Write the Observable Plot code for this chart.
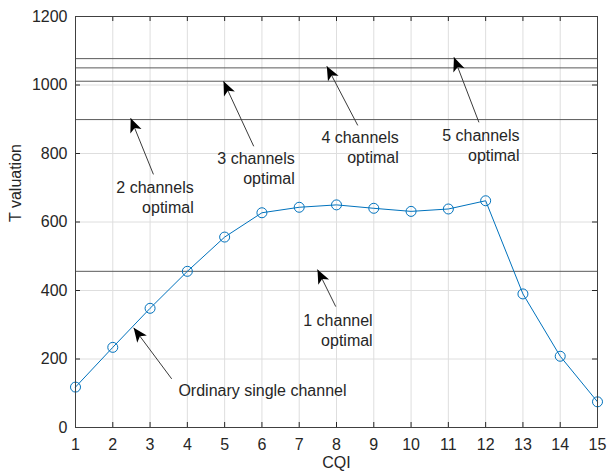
<!DOCTYPE html>
<html>
<head>
<meta charset="utf-8">
<script src="https://cdn.jsdelivr.net/npm/d3@7"></script>
<script src="https://cdn.jsdelivr.net/npm/@observablehq/plot@0.6"></script>
<style>
  html, body { margin: 0; padding: 0; background: #fff; }
  #chart { width: 607px; height: 473px; overflow: hidden; }
</style>
</head>
<body>
<div id="chart"></div>
<script>
// ---- data ----
const cqi = [1, 2, 3, 4, 5, 6, 7, 8, 9, 10, 11, 12, 13, 14, 15];
const tValuation = [118, 234, 348, 456, 556, 627, 643, 650, 640, 631, 638, 662, 390, 208, 75];
const optimalLevels = [456, 899, 1011, 1050, 1077];
const xTicks = [1, 2, 3, 4, 5, 6, 7, 8, 9, 10, 11, 12, 13, 14, 15];
const yTicks = [0, 200, 400, 600, 800, 1000, 1200];

// annotations (text arrows), in data units
const annotLabels = ["2 channels\noptimal", "3 channels\noptimal", "4 channels\noptimal", "5 channels\noptimal", "1 channel\noptimal", "Ordinary single channel"];
const annotTailX = [3.09, 5.78, 8.57, 11.82, 7.98, 3.58];
const annotTailY = [739, 821, 882, 891, 353, 142];
const annotHeadX = [2.48, 4.97, 7.74, 11.15, 7.49, 2.56];
const annotHeadY = [903, 1011, 1055, 1081, 461, 291];
const annotTextX = [4.17, 6.88, 9.67, 12.91, 8.97, 3.76];
const annotTextY = [675, 758, 820, 827, 287, 107];
const annotAlign = ["end", "end", "end", "end", "end", "start"];

const annots = annotLabels.map((label, i) => ({
  label, tx: annotTailX[i], ty: annotTailY[i], hx: annotHeadX[i], hy: annotHeadY[i],
  lx: annotTextX[i], ly: annotTextY[i], align: annotAlign[i]
}));
const series = cqi.map((x, i) => ({x, y: tValuation[i]}));

const W = 607, H = 473;
const mTop = 16, mBottom = 46, mLeft = 75, mRight = 10;
const innerH = H - mTop - mBottom;
const innerW = W - mLeft - mRight;
const tickLen = 5;
const axisColor = "#262626";
const fs = 16;

function headMarker(color, context) {
  const ns = "http://www.w3.org/2000/svg";
  const m = context.document.createElementNS(ns, "marker");
  m.setAttribute("viewBox", "-16 -8 17 16");
  m.setAttribute("markerWidth", 17);
  m.setAttribute("markerHeight", 16);
  m.setAttribute("markerUnits", "userSpaceOnUse");
  m.setAttribute("orient", "auto");
  m.setAttribute("refX", 0);
  m.setAttribute("refY", 0);
  const p = context.document.createElementNS(ns, "path");
  p.setAttribute("d", "M0,0L-14,-6L-10.5,0L-14,6Z");
  p.setAttribute("fill", "#000");
  p.setAttribute("stroke", "none");
  m.appendChild(p);
  return m;
}

const chart = Plot.plot({
  width: W,
  height: H,
  marginTop: mTop,
  marginBottom: mBottom,
  marginLeft: mLeft,
  marginRight: mRight,
  style: { fontFamily: "'Liberation Sans', Arial, Helvetica, sans-serif", fontSize: fs + "px", background: "#fff", color: axisColor },
  x: { domain: [1, 15] },
  y: { domain: [0, 1200] },
  marks: [
    // grid
    Plot.gridX(xTicks, { stroke: "#dedede", strokeOpacity: 1 }),
    Plot.gridY(yTicks, { stroke: "#dedede", strokeOpacity: 1 }),
    // optimal levels
    Plot.ruleY(optimalLevels, { stroke: "#5a5a5a", strokeWidth: 1 }),
    // series
    Plot.line(series, { x: "x", y: "y", stroke: "#0072BD", strokeWidth: 1 }),
    Plot.dot(series, { x: "x", y: "y", r: 5, stroke: "#0072BD", fill: "none", strokeWidth: 1 }),
    // arrows
    Plot.link(annots, { x1: "tx", y1: "ty", x2: "hx", y2: "hy", stroke: "#3a3a3a", strokeWidth: 1, markerEnd: headMarker }),
    // annotation texts
    Plot.text(annots.filter(d => d.align === "end"), { x: "lx", y: "ly", text: "label", textAnchor: "end", lineAnchor: "middle", lineHeight: 1.25, fontSize: fs, fill: axisColor }),
    Plot.text(annots.filter(d => d.align === "start"), { x: "lx", y: "ly", text: "label", textAnchor: "start", lineAnchor: "middle", fontSize: fs, fill: axisColor }),
    // inward ticks (bottom, top, left, right)
    Plot.tickX(xTicks, { x: d => d, insetTop: innerH - tickLen, stroke: axisColor }),
    Plot.tickX(xTicks, { x: d => d, insetBottom: innerH - tickLen, stroke: axisColor }),
    Plot.tickY(yTicks, { y: d => d, insetRight: innerW - tickLen, stroke: axisColor }),
    Plot.tickY(yTicks, { y: d => d, insetLeft: innerW - tickLen, stroke: axisColor }),
    // axes labels
    Plot.axisX(xTicks, { tickSize: 0, tickPadding: 11, fontSize: fs, label: null, fill: axisColor, tickFormat: d => String(d) }),
    Plot.axisY(yTicks, { tickSize: 0, tickPadding: 8, fontSize: fs, label: null, fill: axisColor, tickFormat: d => String(d) }),
    Plot.text(["CQI"], { frameAnchor: "bottom", dy: 29, lineAnchor: "top", text: d => d, fontSize: fs, fill: axisColor }),
    Plot.text(["T valuation"], { frameAnchor: "left", dx: -59.5, rotate: -90, text: d => d, fontSize: fs, fill: axisColor }),
    Plot.frame({ stroke: "#404040", strokeWidth: 1 })
  ]
});
document.getElementById("chart").appendChild(chart);
</script>
</body>
</html>
